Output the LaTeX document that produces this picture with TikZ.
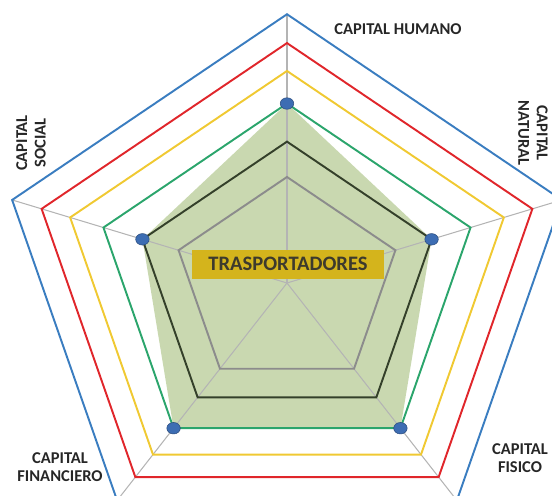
\documentclass[tikz,border=0pt]{standalone}
\usepackage{fontspec}
\setmainfont{Carlito}
\usetikzlibrary{shapes.geometric}
\definecolor{ringblue}{HTML}{3A7DC0}
\definecolor{ringred}{HTML}{E0262B}
\definecolor{ringyellow}{HTML}{F0C932}
\definecolor{ringgreen}{HTML}{2BA56C}
\definecolor{ringdark}{HTML}{34402A}
\definecolor{ringgray}{HTML}{8C8C8C}
\definecolor{axisgray}{HTML}{B4B4B4}
\definecolor{sage}{HTML}{9DB870}
\definecolor{dotblue}{HTML}{3D6DB3}
\definecolor{gold}{HTML}{D4B41C}
\definecolor{labeltext}{HTML}{262626}
\tikzset{
  ring/.style={line width=1.1pt, line join=miter},
  axis/.style={draw=axisgray, line width=0.6pt},
  capital/.style={font=\bfseries\fontsize{9.4}{10.5}\selectfont, text=labeltext, align=center, inner sep=0pt},
  dot/.style={ellipse, fill=dotblue, draw=dotblue!70!black, line width=0.3pt, minimum width=0.27cm, minimum height=0.23cm, inner sep=0pt},
  tagbox/.style={fill=gold, text=black!75!olive, font=\bfseries\fontsize{11.7}{13}\selectfont, minimum width=3.84cm, minimum height=0.58cm, inner sep=0pt}
}

\begin{document}
\begin{tikzpicture}[x=0.02cm,y=0.02cm]
  \useasboundingbox (-287,-212) rectangle (265,283);
  \begin{scope}[yscale=0.93]
    \coordinate (o) at (0,0);
    % vertices of every ring
    \foreach \ringname/\rad in {gray/114,dark/152,green/193,yellow/228,red/258,blue/289}
      \foreach \k/\ang in {1/90,2/18,3/306,4/234,5/162}
        \coordinate (\ringname-\k) at (\ang:\rad);
  \end{scope}

  % data area
  \fill[sage, opacity=0.55] (green-1) -- (dark-2) -- (green-3) -- (green-4) -- (dark-5) -- cycle;

  \foreach \k in {1,...,5}
    \draw[axis] (o) -- (blue-\k);

  \foreach \ringname in {gray,dark,green,yellow,red,blue}
    \draw[ring, draw=ring\ringname] (\ringname-1) -- (\ringname-2) -- (\ringname-3) -- (\ringname-4) -- (\ringname-5) -- cycle;

  \foreach \k/\lv in {1/green,2/dark,3/green,4/green,5/dark}
    \node[dot] (dot-\k) at (\lv-\k) {};

  \node[tagbox] (tras) at (1,19) {TRASPORTADORES};

  \node[capital] (humano) at (111,254) {CAPITAL HUMANO};
  \node[capital, rotate=-90] (natural) at (246,150) {CAPITAL\\NATURAL};
  \node[capital, rotate=90] (social) at (-256,140) {CAPITAL\\SOCIAL};
  \node[capital] (financiero) at (-227,-184) {CAPITAL\\FINANCIERO};
  \node[capital] (fisico) at (233,-175) {CAPITAL\\FISICO};
\end{tikzpicture}
\end{document}
